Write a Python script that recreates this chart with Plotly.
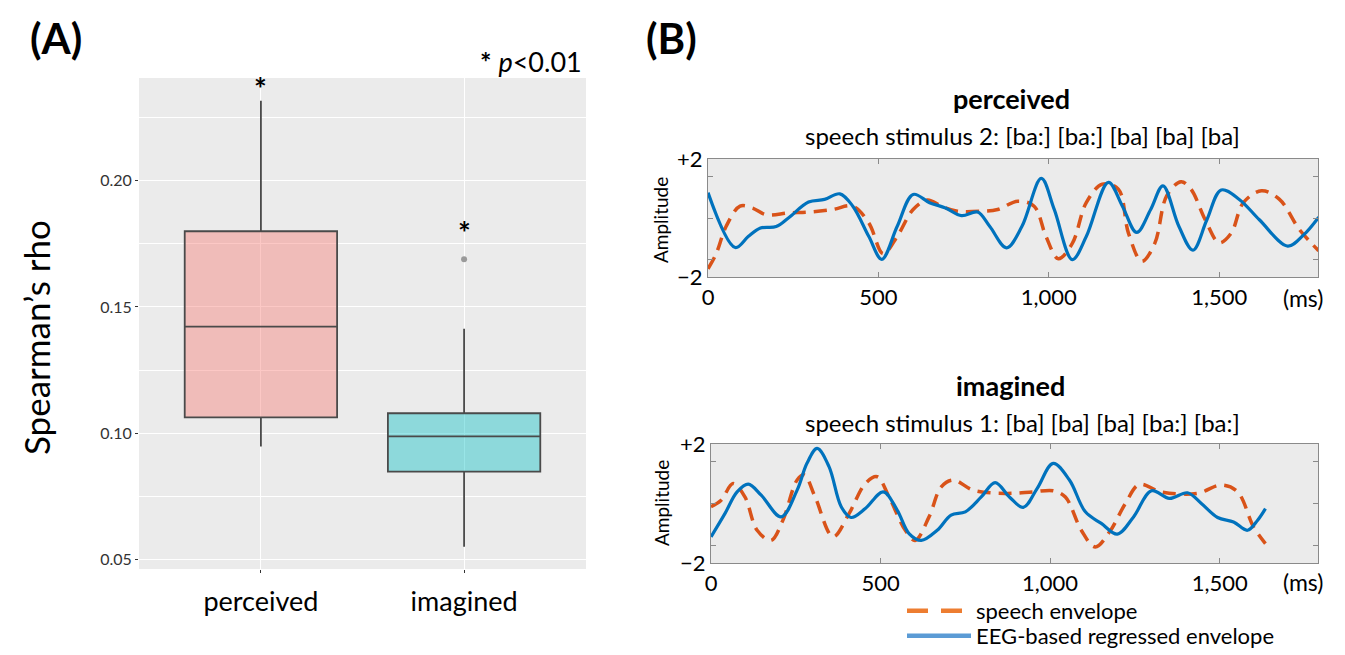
import plotly.graph_objects as go

W, H = 1345, 655
FONT = "Lato"

# ---------------- Panel A data ----------------
groups = ["perceived", "imagined"]
q1 = [0.1063, 0.0848]
median = [0.1422, 0.0987]
q3 = [0.1800, 0.1079]
lower_whisker = [0.0947, 0.0550]
upper_whisker = [0.2317, 0.1414]
outlier_group = ["imagined"]
outlier_value = [0.1689]
box_fill = ["rgba(248,118,109,0.4)", "rgba(0,191,196,0.4)"]
y_ticks_A = [0.05, 0.10, 0.15, 0.20]
y_minor_A = [0.075, 0.125, 0.175, 0.225]

# ---------------- Panel B data ----------------
# perceived, speech stimulus 2
perc_eeg_ms = [0, 80, 118, 154, 200, 236, 295, 342, 387, 425, 472, 510, 555, 602, 650, 697,
               744, 791, 827, 876, 921, 978, 1016, 1069, 1110, 1175, 1216, 1258, 1299, 1335,
               1382, 1423, 1464, 1506, 1559, 1618, 1701, 1748, 1792]
perc_eeg_amp = [0.86, -1.0, -0.63, -0.34, -0.29, 0.0, 0.54, 0.63, 0.82, 0.40, -0.63, -1.40,
                -0.29, 0.80, 0.52, 0.34, 0.08, 0.20, -0.29, -1.01, -0.29, 1.34, 0.29, -1.41,
                -0.63, 1.21, 0.40, -0.49, 0.29, 1.09, -0.29, -1.09, -0.06, 0.95, 0.63, -0.06,
                -0.95, -0.57, 0.03]
perc_speech_ms = [0, 24, 53, 94, 130, 171, 236, 295, 366, 425, 472, 514, 555, 602, 644, 685,
                  732, 803, 850, 909, 957, 992, 1028, 1069, 1110, 1157, 1204, 1234, 1273, 1311,
                  1346, 1388, 1417, 1459, 1500, 1535, 1571, 1624, 1677, 1736, 1792]
perc_speech_amp = [-1.72, -1.21, -0.29, 0.40, 0.34, 0.11, 0.17, 0.20, 0.29, 0.40, -0.17, -1.21,
                   -0.63, 0.29, 0.61, 0.40, 0.23, 0.23, 0.29, 0.57, 0.40, -0.63, -1.38, -0.86,
                   0.52, 1.15, 0.98, -0.52, -1.47, -0.86, 0.75, 1.23, 0.98, -0.06, -0.84, -0.52,
                   0.52, 0.92, 0.63, -0.40, -1.11]

# imagined, speech stimulus 1
imag_eeg_ms = [0, 41, 77, 110, 148, 207, 254, 283, 313, 348, 384, 413, 455, 508, 549, 584, 620,
               667, 708, 750, 797, 838, 880, 921, 962, 1009, 1057, 1104, 1151, 1198, 1246, 1299,
               1352, 1405, 1446, 1494, 1541, 1582, 1612, 1635]
imag_eeg_amp = [-1.12, -0.34, 0.39, 0.65, 0.28, -0.45, 0.45, 1.35, 1.85, 1.24, -0.11, -0.47,
                -0.17, 0.39, -0.22, -1.01, -1.24, -0.90, -0.39, -0.28, 0.22, 0.70, 0.22, -0.13,
                0.51, 1.35, 0.79, -0.28, -0.67, -1.03, -0.45, 0.43, 0.17, 0.36, 0.0, -0.47,
                -0.62, -0.90, -0.56, -0.17]
imag_speech_ms = [0, 30, 65, 100, 136, 177, 212, 254, 275, 307, 360, 407, 455, 490, 525, 573,
                  602, 643, 679, 714, 773, 868, 950, 1009, 1045, 1092, 1133, 1175, 1222, 1263,
                  1328, 1434, 1505, 1553, 1600, 1635]
imag_speech_amp = [-0.11, 0.11, 0.67, 0.22, -0.90, -1.24, -0.56, 0.79, 0.96, 0.22, -1.12, -0.34,
                   0.67, 0.90, 0.22, -0.90, -1.24, -0.45, 0.56, 0.79, 0.45, 0.34, 0.39, 0.43,
                   0.22, -0.90, -1.46, -0.96, 0.0, 0.64, 0.39, 0.34, 0.62, 0.39, -0.79, -1.35]

x_ticks_B = [0, 500, 1000, 1500]
x_ticktext_B = ["0", "500", "1,000", "1,500"]
y_ticks_B = [-2, -1.4, 0, 1.4, 2]
y_ticktext_B = ["\u22122", "", "", "", "+2"]

EEG_COLOR = "#0072BD"
SPEECH_COLOR = "#D95319"
LEG_EEG = "#5B9BD5"
LEG_SPEECH = "#ED7D31"


def px_x(p):
    return p / W


def px_y(p):
    return 1 - p / H


fig = go.Figure()

# ---- boxes ----
for i, g in enumerate(groups):
    fig.add_trace(go.Box(
        x=[g], q1=[q1[i]], median=[median[i]], q3=[q3[i]],
        lowerfence=[lower_whisker[i]], upperfence=[upper_whisker[i]],
        fillcolor=box_fill[i], line=dict(color="#4a4a4a", width=1.8),
        whiskerwidth=0, width=0.75, boxpoints=False, showlegend=False,
        xaxis="x", yaxis="y", hoverinfo="skip"))

fig.add_trace(go.Scatter(x=outlier_group, y=outlier_value, mode="markers",
                         marker=dict(color="#9a9a9a", size=6), showlegend=False,
                         xaxis="x", yaxis="y"))

# ---- curves ----
def add_curves(xa, ya, ms_s, amp_s, ms_e, amp_e):
    fig.add_trace(go.Scatter(x=ms_s, y=amp_s, mode="lines", line_shape="spline",
                             line=dict(color=SPEECH_COLOR, width=3.5, dash="13px,8px"),
                             showlegend=False, xaxis=xa, yaxis=ya))
    fig.add_trace(go.Scatter(x=ms_e, y=amp_e, mode="lines", line_shape="spline",
                             line=dict(color=EEG_COLOR, width=3.2),
                             showlegend=False, xaxis=xa, yaxis=ya))

add_curves("x2", "y2", perc_speech_ms, perc_speech_amp, perc_eeg_ms, perc_eeg_amp)
add_curves("x3", "y3", imag_speech_ms, imag_speech_amp, imag_eeg_ms, imag_eeg_amp)

# legend entries
fig.add_trace(go.Scatter(x=[None], y=[None], mode="lines", name="speech envelope",
                         line=dict(color=LEG_SPEECH, width=4.5, dash="21px,13px"),
                         legend="legend", xaxis="x3", yaxis="y3"))
fig.add_trace(go.Scatter(x=[None], y=[None], mode="lines", name="EEG-based regressed envelope",
                         line=dict(color=LEG_EEG, width=4.5),
                         legend="legend2", xaxis="x3", yaxis="y3"))

# ---- axes ----
axA_common = dict(showgrid=True, gridcolor="white", zeroline=False, showline=False,
                  ticks="outside", ticklen=3, tickcolor="#333333")
fig.update_layout(
    xaxis=dict(domain=[px_x(139), px_x(586)], anchor="y", type="category",
               categoryorder="array", categoryarray=groups, range=[-0.6, 1.6],
               gridwidth=1.4, ticklabelstandoff=6,
               tickfont=dict(family=FONT, size=27, color="black"), **axA_common),
    yaxis=dict(domain=[px_y(569), px_y(78)], anchor="x", range=[0.0462, 0.2407],
               tickvals=y_ticks_A, ticktext=["%.2f" % v for v in y_ticks_A],
               gridwidth=1.4, tickfont=dict(family=FONT, size=16, color="#333333"),
               minor=dict(tickvals=y_minor_A, showgrid=True, gridcolor="white", gridwidth=0.7,
                          ticks=""),
               **axA_common),
)

def b_axes(xd, yd):
    xa = dict(domain=xd, range=[0, 1790], tickvals=x_ticks_B, ticktext=x_ticktext_B,
              showline=True, linecolor="#8a8a8a", linewidth=1.2, mirror="ticks",
              ticks="inside", ticklen=5, tickcolor="#8a8a8a", showgrid=False, zeroline=False,
              tickfont=dict(family=FONT, size=22, color="black"))
    ya = dict(domain=yd, range=[-2, 2], tickvals=y_ticks_B, ticktext=y_ticktext_B,
              showline=True, linecolor="#8a8a8a", linewidth=1.2, mirror="ticks",
              ticks="inside", ticklen=5, tickcolor="#8a8a8a", showgrid=False, zeroline=False,
              tickfont=dict(family=FONT, size=22, color="black"))
    return xa, ya

x2, y2 = b_axes([px_x(708), px_x(1318)], [px_y(277), px_y(159)])
x3, y3 = b_axes([px_x(711), px_x(1318)], [px_y(563), px_y(444)])
x2.update(anchor="y2"); y2.update(anchor="x2")
x3.update(anchor="y3"); y3.update(anchor="x3")
fig.update_layout(xaxis2=x2, yaxis2=y2, xaxis3=x3, yaxis3=y3)

# ---- annotations ----
ann = []
def txt(text, x, y, size, bold=False, xanchor="center", yanchor="middle", angle=0,
        color="black"):
    ann.append(dict(text=("<b>%s</b>" % text) if bold else text, x=px_x(x), y=px_y(y),
                    xref="paper", yref="paper", showarrow=False, xanchor=xanchor,
                    yanchor=yanchor, textangle=angle,
                    font=dict(family=FONT, size=size, color=color)))

txt("(A)", 56, 38, 42, bold=True)
txt("(B)", 671, 38, 42, bold=True)
txt("<b>*</b> <i>p</i>&lt;0.01", 584, 61, 27, xanchor="right")
txt("Spearman\u2019s rho", 36, 338, 35, angle=-90)
txt("perceived", 1011, 98, 27, bold=True)
txt("speech stimulus 2: [ba:] [ba:] [ba] [ba] [ba]", 1022, 136, 24)
txt("imagined", 1010, 385, 27, bold=True)
txt("speech stimulus 1: [ba] [ba] [ba] [ba:] [ba:]", 1022, 422, 24)
txt("Amplitude", 660, 220, 19, angle=-90)
txt("Amplitude", 661, 503, 19, angle=-90)
txt("(ms)", 1303, 298, 23)
txt("(ms)", 1303, 582, 23)

# significance stars above whiskers (data coordinates)
for g, top, ys in [("perceived", upper_whisker[0], -7), ("imagined", outlier_value[0], 7)]:
    ann.append(dict(text="<b>*</b>", x=g, y=top, xref="x", yref="y", showarrow=False,
                    yanchor="bottom", yshift=ys, font=dict(family=FONT, size=30, color="black")))

fig.update_layout(
    annotations=ann,
    width=W, height=H, margin=dict(l=0, r=0, t=0, b=0, autoexpand=False),
    paper_bgcolor="white", plot_bgcolor="#EBEBEB",
    showlegend=True,
    legend=dict(x=px_x(902), y=px_y(611), xanchor="left", yanchor="middle",
                font=dict(family=FONT, size=22, color="black"), itemwidth=64,
                bgcolor="rgba(0,0,0,0)"),
    legend2=dict(x=px_x(902), y=px_y(636), xanchor="left", yanchor="middle",
                 font=dict(family=FONT, size=22, color="black"), itemwidth=64,
                 bgcolor="rgba(0,0,0,0)"),
)

fig.write_html("out.html", config={"displayModeBar": False},
               post_script="document.body.style.margin='0px';"
                           "document.body.style.overflow='hidden';")
